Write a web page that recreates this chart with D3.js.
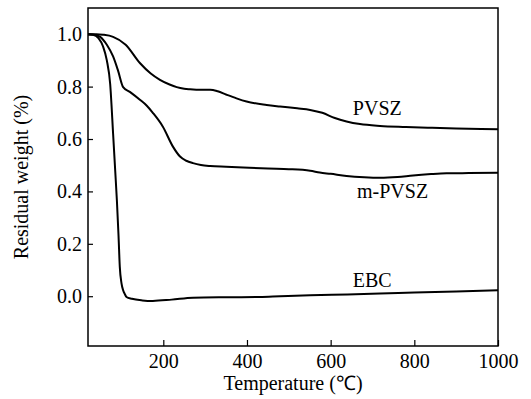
<!DOCTYPE html>
<html><head><meta charset="utf-8">
<script src="https://cdn.jsdelivr.net/npm/d3@7"></script>
<style>body{margin:0;background:#fff}svg{display:block}text{font-family:"Liberation Serif","Times New Roman",serif;fill:#000}</style>
</head><body>
<svg id="c" width="531" height="399"></svg>
<script>
const pvszT = [20,40,56,80,110,144,170,192,215,232,250,264,290,312,330,351,375,399,447,479,520,551,580,610,638,670,718,780,837,900,960,1000];
const pvszW = [1.0,1.0,0.998,0.99,0.96,0.89,0.85,0.826,0.808,0.798,0.792,0.79,0.788,0.788,0.782,0.769,0.755,0.743,0.73,0.724,0.717,0.711,0.70,0.68,0.667,0.657,0.65,0.646,0.643,0.64,0.638,0.637];
const mpvszT = [20,35,49,65,80,92,104,120,144,160,175,199,223,240,255,271,290,312,350,391,450,500,551,574,600,638,680,718,760,797,840,877,930,1000];
const mpvszW = [1.0,0.998,0.99,0.96,0.915,0.86,0.798,0.78,0.75,0.728,0.70,0.647,0.571,0.533,0.517,0.508,0.501,0.497,0.494,0.491,0.487,0.485,0.479,0.472,0.467,0.459,0.454,0.452,0.455,0.461,0.466,0.469,0.470,0.471];
const ebcT = [20,32,45,56,65,73,80,85,89,93,96,100,104,108,112,125,150,175,220,271,350,431,479,551,640,718,800,900,1000];
const ebcW = [1.0,0.998,0.985,0.953,0.9,0.81,0.62,0.48,0.367,0.23,0.112,0.05,0.023,0.008,-0.003,-0.01,-0.016,-0.018,-0.013,-0.006,-0.004,-0.003,0.0,0.004,0.007,0.01,0.014,0.018,0.023];
const xTicks = [200,400,600,800,1000];
const yTicks = [0.0,0.2,0.4,0.6,0.8,1.0];
const seriesNames = ["PVSZ","m-PVSZ","EBC"];
const labelT = [653,663,653];
const labelW = [0.692,0.375,0.034];

const W=531,H=399,m={l:88,t:8,r:33,b:53};
const svg=d3.select("#c");
const x=d3.scaleLinear().domain([20,1000]).range([m.l,W-m.r]);
const y=d3.scaleLinear().domain([-0.19,1.1]).range([H-m.b,m.t]);

const xa=svg.append("g").attr("transform",`translate(0,${H-m.b})`)
  .call(d3.axisBottom(x).tickValues(xTicks).tickFormat(d3.format("d")).tickSizeInner(-6).tickSizeOuter(0).tickPadding(8));
const ya=svg.append("g").attr("transform",`translate(${m.l},0)`)
  .call(d3.axisLeft(y).tickValues(yTicks).tickFormat(d3.format(".1f")).tickSizeInner(-5).tickSizeOuter(0).tickPadding(6));
[xa,ya].forEach(g=>{g.select(".domain").remove();g.selectAll("line").attr("stroke","#000").attr("stroke-width",1.2);
  g.selectAll("text").attr("font-size",20);});

svg.append("rect").attr("x",m.l).attr("y",m.t).attr("width",W-m.l-m.r).attr("height",H-m.t-m.b)
  .attr("fill","none").attr("stroke","#000").attr("stroke-width",1.5);

const series=[[pvszT,pvszW],[mpvszT,mpvszW],[ebcT,ebcW]];
const line=d3.line().x(d=>x(d[0])).y(d=>y(d[1])).curve(d3.curveMonotoneX);
series.forEach(([t,w])=>{
  svg.append("path").datum(t.map((v,i)=>[v,w[i]])).attr("d",line)
    .attr("fill","none").attr("stroke","#000").attr("stroke-width",2);
});
seriesNames.forEach((n,i)=>{
  svg.append("text").attr("x",x(labelT[i])).attr("y",y(labelW[i])).attr("font-size",20).text(n);
});

svg.append("text").attr("x",(m.l+W-m.r)/2).attr("y",390).attr("text-anchor","middle").attr("font-size",20)
  .text("Temperature (℃)");
svg.append("text").attr("transform",`translate(28,${(m.t+H-m.b)/2}) rotate(-90)`).attr("text-anchor","middle")
  .attr("font-size",20).text("Residual weight (%)");
</script>
</body></html>
